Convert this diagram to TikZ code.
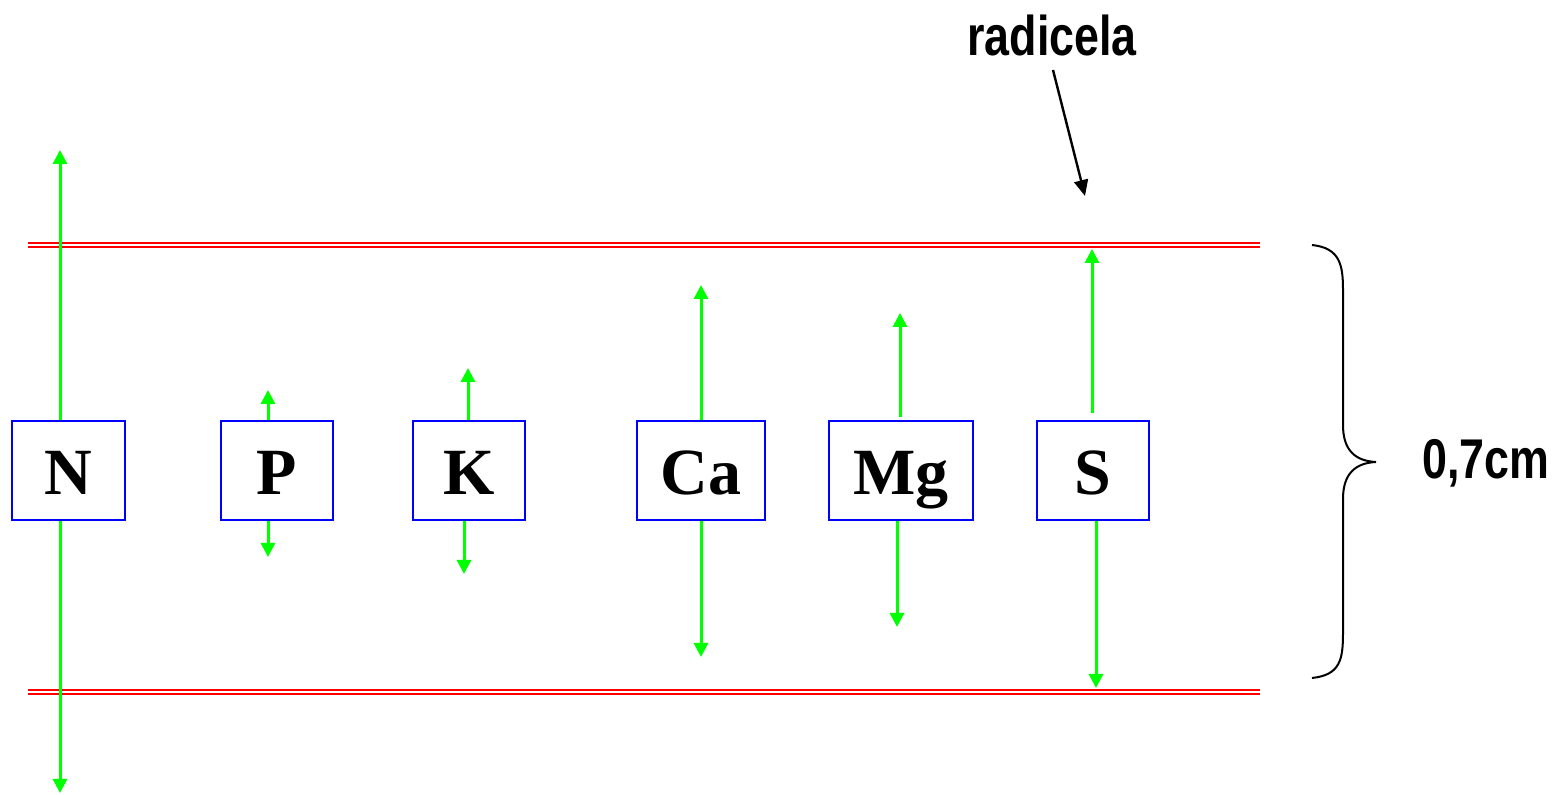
\documentclass[tikz,border=0pt]{standalone}
\usepackage{fontspec}
\setmainfont{Liberation Serif}
\newfontfamily\labelfont{Liberation Sans}
\usetikzlibrary{arrows.meta,positioning}
\definecolor{ionblue}{HTML}{0000FF}
\definecolor{flowgreen}{HTML}{00FF00}
\definecolor{wallred}{HTML}{FF0000}

\begin{document}
\begin{tikzpicture}[
  x=0.5pt, y=-0.5pt,
  ion/.style={draw=ionblue, line width=1.4pt, fill=white, minimum height=49.5pt, inner sep=0pt,
    text height=24pt, text depth=0pt, font=\fontsize{33}{33}\selectfont\bfseries},
  flow/.style={-{Triangle[length=7pt,width=7pt]}, line width=1.5pt, draw=flowgreen, fill=flowgreen},
  wall/.style={draw=wallred, line width=0.8pt, double=white, double distance=1.1pt},
  tag/.style={font=\labelfont\fontsize{28}{28}\selectfont\bfseries, inner sep=0pt}
]
\useasboundingbox (0,0) rectangle (1564,795);

% root walls
\draw[wall] (28,245) -- (1260,245);
\draw[wall] (28,692) -- (1260,692);

% nutrient boxes
\node[ion, minimum width=56.5pt] (n) at (68.5,470.5) {N};
\node[ion, minimum width=56pt] (p) at (277,470.5) {P};
\node[ion, minimum width=56pt] (k) at (469,470.5) {K};
\node[ion, minimum width=64pt] (ca) at (701,470.5) {Ca};
\node[ion, minimum width=72pt] (mg) at (901,470.5) {Mg};
\node[ion, minimum width=56pt] (s) at (1093,470.5) {S};

% movement ends
\coordinate (n up) at (60,150);    \coordinate (n down) at (60,793);
\coordinate (p up) at (268,390);   \coordinate (p down) at (268,557);
\coordinate (k up) at (468,368);   \coordinate (k down) at (464,574);
\coordinate (ca up) at (701,285);  \coordinate (ca down) at (701,657);
\coordinate (mg up) at (900,313);  \coordinate (mg down) at (897,627);
\coordinate (s up) at (1092,249);  \coordinate (s down) at (1096,688);

\draw[flow] (n.north -| n up) -- (n up);
\draw[flow] (n.south -| n down) -- (n down);
\draw[flow] (p.north -| p up) -- (p up);
\draw[flow] (p.south -| p down) -- (p down);
\draw[flow] (k.north -| k up) -- (k up);
\draw[flow] (k.south -| k down) -- (k down);
\draw[flow] (ca.north -| ca up) -- (ca up);
\draw[flow] (ca.south -| ca down) -- (ca down);
\draw[flow] ([yshift=1.5pt]mg.north -| mg up) -- (mg up);
\draw[flow] (mg.south -| mg down) -- (mg down);
\draw[flow] ([yshift=3.5pt]s.north -| s up) -- (s up);
\draw[flow] (s.south -| s down) -- (s down);

% radicela label
\node[tag] (radicela) at (1052,35) {\scalebox{0.8}[1]{radicela}};
\coordinate (radicela tip) at (1085,196);
\draw[-{Triangle[length=8pt,width=7pt]}, line width=1.2pt] (1053,70) -- (radicela tip);

% thickness brace
\draw[line width=1pt] (1312,245) .. controls (1340,248) and (1343,265) .. (1343,290)
  -- (1343,425) .. controls (1343,450) and (1355,461) .. (1376,462)
  .. controls (1355,463) and (1343,474) .. (1343,499)
  -- (1343,633) .. controls (1343,660) and (1340,675) .. (1312,678);
\node[tag] (width) at (1486,463) {\scalebox{0.8}[1]{0,7cm}};
\end{tikzpicture}
\end{document}
